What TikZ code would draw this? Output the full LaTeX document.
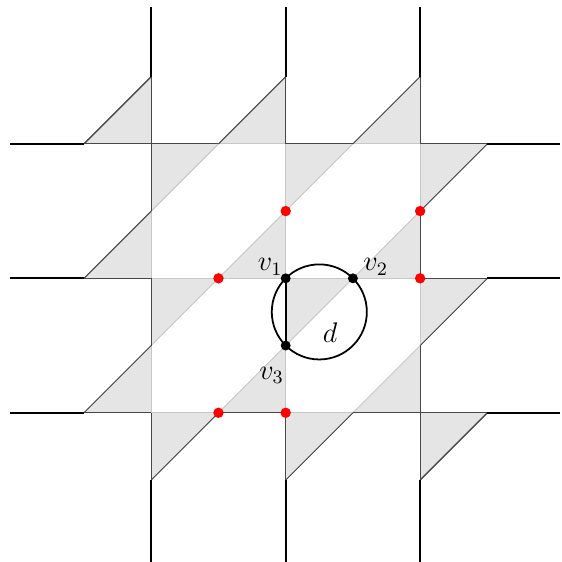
\documentclass[tikz,border=0pt]{standalone}
\begin{document}
\begin{tikzpicture}[x=1cm,y=1cm,
  tri/.style={fill=black!10, draw=none},
  lite/.style={draw=black!22, line width=0.4pt},
  dark/.style={draw=black!72, line width=0.4pt},
  ray/.style={draw=black, line width=0.8pt},
  reddot/.style={circle, fill=red, inner sep=0pt, minimum size=4.4pt},
  blackdot/.style={circle, fill=black, inner sep=0pt, minimum size=4.2pt},
  lbl/.style={font=\fontsize{12}{14}\selectfont, inner sep=0pt}]
\useasboundingbox (-4.25,-4.22) rectangle (4.10,4.14);
% shaded triangles at every grid crossing
\foreach \x in {-2,0,2} \foreach \y in {-2,0,2} {
  \fill[tri] (\x,\y) -- (\x+1,\y) -- (\x,\y-1) -- cycle;
  \fill[tri] (\x,\y) -- (\x-1,\y) -- (\x,\y+1) -- cycle;
}
% light inner edges
\foreach \x in {-2,0,2} \draw[lite] (\x,-3) -- (\x,3);
\foreach \y in {-2,0,2} \draw[lite] (-3,\y) -- (3,\y);
\foreach \x in {-2,0,2} \foreach \y in {-2,0,2} {
  \draw[lite] (\x+1,\y) -- (\x,\y-1);
  \draw[lite] (\x-1,\y) -- (\x,\y+1);
}
% dark boundary hypotenuses
\foreach \x in {-2,0,2} {
  \draw[dark] (\x+1,-2) -- (\x,-3);
  \draw[dark] (\x-1,2) -- (\x,3);
}
\foreach \y in {-2,0,2} {
  \draw[dark] (3,\y) -- (2,\y-1);
  \draw[dark] (-3,\y) -- (-2,\y+1);
}
% dark boundary grid segments
\draw[dark] (-2,3) -- (-2,1) (-2,0) -- (-2,-1) (-2,-2) -- (-2,-3);
\draw[dark] (0,3) -- (0,2) (0,-2) -- (0,-3);
\draw[dark] (2,3) -- (2,2) (2,1) -- (2,0) (2,-1) -- (2,-3);
\draw[dark] (-3,2) -- (-1,2) (0,2) -- (1,2) (2,2) -- (3,2);
\draw[dark] (-3,0) -- (-2,0) (2,0) -- (3,0);
\draw[dark] (-3,-2) -- (-2,-2) (-1,-2) -- (0,-2) (1,-2) -- (3,-2);
% outer rays
\foreach \x in {-2,0,2} {
  \draw[ray] (\x,3) -- (\x,4.03);
  \draw[ray] (\x,-3) -- (\x,-4.3);
}
\foreach \y in {-2,0,2} {
  \draw[ray] (-4.1,\y) -- (-3,\y);
  \draw[ray] (3,\y) -- (4.08,\y);
}
% special vertices
\coordinate (v1) at (0,0);
\coordinate (v2) at (1,0);
\coordinate (v3) at (0,-1);
\coordinate (c) at (0.5,-0.5);
\draw[black, line width=0.75pt] (c) circle[radius=0.7071];
\draw[black, line width=0.75pt] (v1) -- (v3);
\node[reddot] (r1) at (0,1) {};
\node[reddot] (r2) at (-1,0) {};
\node[reddot] (r3) at (2,1) {};
\node[reddot] (r4) at (2,0) {};
\node[reddot] (r5) at (-1,-2) {};
\node[reddot] (r6) at (0,-2) {};
\node[blackdot] (b1) at (v1) {};
\node[blackdot] (b2) at (v2) {};
\node[blackdot] (b3) at (v3) {};
\node[lbl] (l1) at (-0.23,0.17) {$v_1$};
\node[lbl] (l2) at (1.34,0.17) {$v_2$};
\node[lbl] (l3) at (-0.21,-1.44) {$v_3$};
\node[lbl] (ld) at (0.66,-0.81) {$d$};
\end{tikzpicture}
\end{document}
